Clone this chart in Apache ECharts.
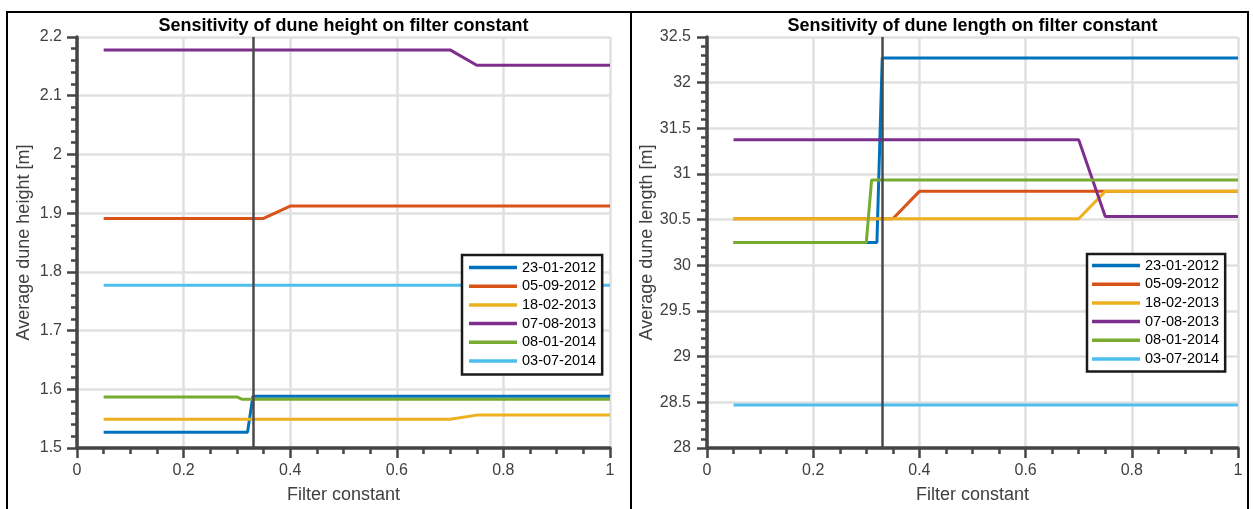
<!DOCTYPE html>
<html>
<head>
<meta charset="utf-8">
<script src="https://cdn.jsdelivr.net/npm/echarts@6/dist/echarts.min.js"></script>
<style>
html,body{margin:0;padding:0;background:#fff;}
#chart{width:1253px;height:509px;}
</style>
</head>
<body>
<div id="chart"></div>
<script>
// ---- data ----
const xValues = [0.05, 0.1, 0.15, 0.2, 0.25, 0.3, 0.31, 0.32, 0.33, 0.34, 0.35, 0.4, 0.45, 0.5, 0.55, 0.6, 0.65, 0.7, 0.75, 0.8, 0.85, 0.9, 0.95, 1];
const seriesNames = ['23-01-2012', '05-09-2012', '18-02-2013', '07-08-2013', '08-01-2014', '03-07-2014'];
const seriesColors = ['#0072BD', '#D95319', '#EDB120', '#7E2F8E', '#77AC30', '#4DBEEE'];

// Average dune height [m]
const height_23_01_2012 = [1.527, 1.527, 1.527, 1.527, 1.527, 1.527, 1.527, 1.527, 1.588, 1.588, 1.588, 1.588, 1.588, 1.588, 1.588, 1.588, 1.588, 1.588, 1.588, 1.588, 1.588, 1.588, 1.588, 1.588];
const height_05_09_2012 = [1.891, 1.891, 1.891, 1.891, 1.891, 1.891, 1.891, 1.891, 1.891, 1.891, 1.891, 1.912, 1.912, 1.912, 1.912, 1.912, 1.912, 1.912, 1.912, 1.912, 1.912, 1.912, 1.912, 1.912];
const height_18_02_2013 = [1.549, 1.549, 1.549, 1.549, 1.549, 1.549, 1.549, 1.549, 1.549, 1.549, 1.549, 1.549, 1.549, 1.549, 1.549, 1.549, 1.549, 1.549, 1.556, 1.556, 1.556, 1.556, 1.556, 1.556];
const height_07_08_2013 = [2.178, 2.178, 2.178, 2.178, 2.178, 2.178, 2.178, 2.178, 2.178, 2.178, 2.178, 2.178, 2.178, 2.178, 2.178, 2.178, 2.178, 2.178, 2.152, 2.152, 2.152, 2.152, 2.152, 2.152];
const height_08_01_2014 = [1.587, 1.587, 1.587, 1.587, 1.587, 1.587, 1.583, 1.583, 1.583, 1.583, 1.583, 1.583, 1.583, 1.583, 1.583, 1.583, 1.583, 1.583, 1.583, 1.583, 1.583, 1.583, 1.583, 1.583];
const height_03_07_2014 = [1.777, 1.777, 1.777, 1.777, 1.777, 1.777, 1.777, 1.777, 1.777, 1.777, 1.777, 1.777, 1.777, 1.777, 1.777, 1.777, 1.777, 1.777, 1.777, 1.777, 1.777, 1.777, 1.777, 1.777];

// Average dune length [m]
const length_23_01_2012 = [30.25, 30.25, 30.25, 30.25, 30.25, 30.25, 30.25, 30.25, 32.27, 32.27, 32.27, 32.27, 32.27, 32.27, 32.27, 32.27, 32.27, 32.27, 32.27, 32.27, 32.27, 32.27, 32.27, 32.27];
const length_05_09_2012 = [30.51, 30.51, 30.51, 30.51, 30.51, 30.51, 30.51, 30.51, 30.51, 30.51, 30.51, 30.81, 30.81, 30.81, 30.81, 30.81, 30.81, 30.81, 30.81, 30.81, 30.81, 30.81, 30.81, 30.81];
const length_18_02_2013 = [30.51, 30.51, 30.51, 30.51, 30.51, 30.51, 30.51, 30.51, 30.51, 30.51, 30.51, 30.51, 30.51, 30.51, 30.51, 30.51, 30.51, 30.51, 30.81, 30.81, 30.81, 30.81, 30.81, 30.81];
const length_07_08_2013 = [31.375, 31.375, 31.375, 31.375, 31.375, 31.375, 31.375, 31.375, 31.375, 31.375, 31.375, 31.375, 31.375, 31.375, 31.375, 31.375, 31.375, 31.375, 30.535, 30.535, 30.535, 30.535, 30.535, 30.535];
const length_08_01_2014 = [30.25, 30.25, 30.25, 30.25, 30.25, 30.25, 30.935, 30.935, 30.935, 30.935, 30.935, 30.935, 30.935, 30.935, 30.935, 30.935, 30.935, 30.935, 30.935, 30.935, 30.935, 30.935, 30.935, 30.935];
const length_03_07_2014 = [28.47, 28.47, 28.47, 28.47, 28.47, 28.47, 28.47, 28.47, 28.47, 28.47, 28.47, 28.47, 28.47, 28.47, 28.47, 28.47, 28.47, 28.47, 28.47, 28.47, 28.47, 28.47, 28.47, 28.47];

// axis ticks
const xTicks = [0, 0.2, 0.4, 0.6, 0.8, 1];
const heightTicks = [1.5, 1.6, 1.7, 1.8, 1.9, 2, 2.1, 2.2];
const lengthTicks = [28, 28.5, 29, 29.5, 30, 30.5, 31, 31.5, 32, 32.5];
const filterConstantLine = 1 / 3;

const heightSeries = [height_23_01_2012, height_05_09_2012, height_18_02_2013, height_07_08_2013, height_08_01_2014, height_03_07_2014];
const lengthSeries = [length_23_01_2012, length_05_09_2012, length_18_02_2013, length_07_08_2013, length_08_01_2014, length_03_07_2014];

// ---- chart ----
const FONT = '"Liberation Sans", Arial, Helvetica, sans-serif';
const AX = '#454545';
const TXT = '#404040';

function xAxisCfg(gi) {
  return {
    gridIndex: gi, type: 'value',
    min: xTicks[0], max: xTicks[xTicks.length - 1], interval: xTicks[1] - xTicks[0],
    axisLine: { show: true, onZero: false, lineStyle: { color: AX, width: 3.5 } },
    axisTick: { show: true, inside: false, length: 10, lineStyle: { color: AX, width: 2.5 } },
    minorTick: { show: true, splitNumber: 4, length: 6, lineStyle: { color: AX, width: 2.5 } },
    splitLine: { show: true, lineStyle: { color: '#e0e0e0', width: 2.5 } },
    axisLabel: { color: TXT, fontSize: 16, fontFamily: FONT, margin: 15 },
    name: 'Filter constant', nameLocation: 'middle', nameGap: 38,
    nameTextStyle: { color: TXT, fontSize: 18, fontFamily: FONT }
  };
}
function yAxisCfg(gi, ticks, name, margin, nameGap) {
  return {
    gridIndex: gi, type: 'value',
    min: ticks[0], max: ticks[ticks.length - 1], interval: +(ticks[1] - ticks[0]).toFixed(6),
    axisLine: { show: true, onZero: false, lineStyle: { color: AX, width: 3.5 } },
    axisTick: { show: true, inside: false, length: 10, lineStyle: { color: AX, width: 2.5 } },
    minorTick: { show: true, splitNumber: 5, length: 6, lineStyle: { color: AX, width: 2.5 } },
    splitLine: { show: true, lineStyle: { color: '#e0e0e0', width: 2.5 } },
    axisLabel: { color: TXT, fontSize: 16, fontFamily: FONT, margin: margin },
    name: name, nameLocation: 'middle', nameGap: nameGap,
    nameTextStyle: { color: TXT, fontSize: 18, fontFamily: FONT }
  };
}

function buildSeries(values, gi) {
  return values.map((vals, i) => {
    const s = {
      name: seriesNames[i], type: 'line', xAxisIndex: gi, yAxisIndex: gi,
      data: xValues.map((x, k) => [x, vals[k]]),
      showSymbol: false, symbol: 'none', animation: false, silent: true,
      lineStyle: { color: seriesColors[i], width: 3 },
      itemStyle: { color: seriesColors[i] }
    };
    if (i === values.length - 1) {
      s.markLine = {
        silent: true, symbol: ['none', 'none'], animation: false,
        label: { show: false },
        lineStyle: { color: '#4a4a4a', width: 2.5, type: 'solid' },
        data: [{ xAxis: filterConstantLine }]
      };
    }
    return s;
  });
}

function legendCfg(left, top, padding) {
  return {
    data: seriesNames, orient: 'vertical', left: left, top: top,
    icon: 'rect', itemWidth: 48, itemHeight: 3.5, itemGap: 3.7,
    padding: padding, selectedMode: false,
    backgroundColor: '#fff', borderColor: '#1a1a1a', borderWidth: 2.5,
    textStyle: { color: '#000', fontSize: 14.5, fontFamily: FONT, lineHeight: 15 }
  };
}

const chart = echarts.init(document.getElementById('chart'), null, { renderer: 'canvas' });
chart.setOption({
  backgroundColor: '#fff',
  animation: false,
  grid: [
    { left: 77, top: 37, width: 533, height: 413 },
    { left: 707, top: 37, width: 531, height: 413 }
  ],
  xAxis: [xAxisCfg(0), xAxisCfg(1)],
  yAxis: [
    yAxisCfg(0, heightTicks, 'Average dune height [m]', 15, 44),
    yAxisCfg(1, lengthTicks, 'Average dune length [m]', 16, 44)
  ],
  legend: [
    legendCfg(462, 255, [5, 6, 6, 7]),
    legendCfg(1087, 254, [4, 6, 5, 5])
  ],
  series: buildSeries(heightSeries, 0).concat(buildSeries(lengthSeries, 1)),
  graphic: [
    { type: 'line', shape: { x1: 6, y1: 12, x2: 1249, y2: 12 }, style: { stroke: '#000', lineWidth: 2 }, silent: true },
    { type: 'line', shape: { x1: 7, y1: 11, x2: 7, y2: 509 }, style: { stroke: '#000', lineWidth: 2 }, silent: true },
    { type: 'line', shape: { x1: 631, y1: 11, x2: 631, y2: 509 }, style: { stroke: '#000', lineWidth: 2 }, silent: true },
    { type: 'line', shape: { x1: 1248, y1: 11, x2: 1248, y2: 509 }, style: { stroke: '#000', lineWidth: 2 }, silent: true },
    { type: 'text', x: 343.5, y: 26, silent: true,
      style: { text: 'Sensitivity of dune height on filter constant', fill: '#000', align: 'center', verticalAlign: 'middle',
               fontSize: 18, fontWeight: 'bold', fontFamily: FONT } },
    { type: 'text', x: 972.5, y: 26, silent: true,
      style: { text: 'Sensitivity of dune length on filter constant', fill: '#000', align: 'center', verticalAlign: 'middle',
               fontSize: 18, fontWeight: 'bold', fontFamily: FONT } }
  ]
});
</script>
</body>
</html>
